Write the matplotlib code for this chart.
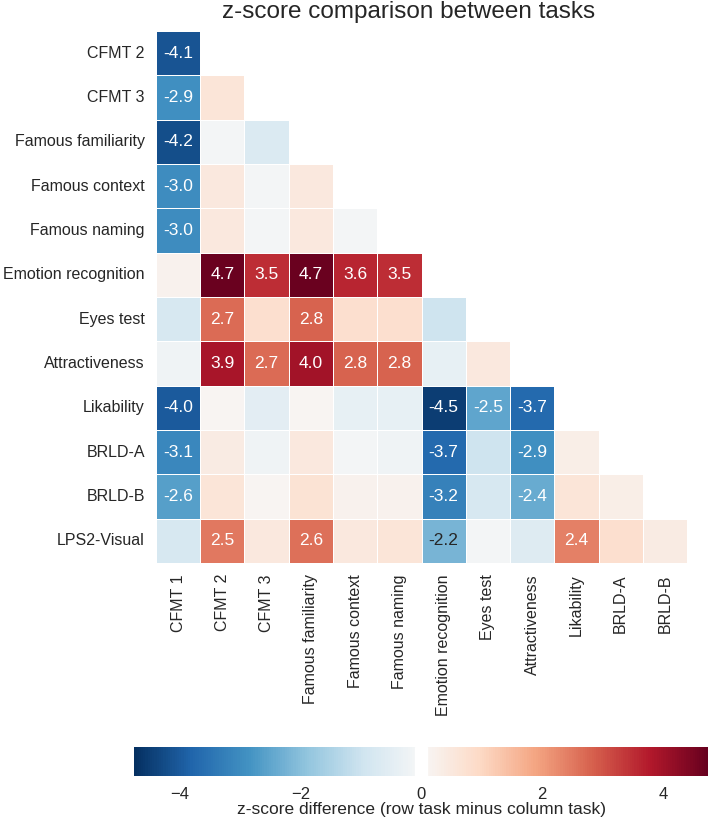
import numpy as np
import matplotlib
matplotlib.use("Agg")
import matplotlib.pyplot as plt
import seaborn as sns

sns.set_style("white")
plt.rcParams['font.family'] = ['Liberation Sans', 'DejaVu Sans']
plt.rcParams['text.color'] = '.15'
plt.rcParams['xtick.color'] = '.15'
plt.rcParams['ytick.color'] = '.15'

# rows / columns of the lower triangle
rows = ["CFMT 2", "CFMT 3", "Famous familiarity", "Famous context", "Famous naming",
        "Emotion recognition", "Eyes test", "Attractiveness", "Likability",
        "BRLD-A", "BRLD-B", "LPS2-Visual"]
cols = ["CFMT 1", "CFMT 2", "CFMT 3", "Famous familiarity", "Famous context",
        "Famous naming", "Emotion recognition", "Eyes test", "Attractiveness",
        "Likability", "BRLD-A", "BRLD-B"]

# z-score differences (row task minus column task), read row by row
diff_rows = [
    [-4.1],
    [-2.9, 0.6],
    [-4.2, -0.1, -0.7],
    [-3.0, 0.5, -0.1, 0.5],
    [-3.0, 0.5, -0.1, 0.5, -0.1],
    [0.2, 4.7, 3.5, 4.7, 3.6, 3.5],
    [-0.8, 2.7, 0.8, 2.8, 0.8, 0.8, -1.0],
    [-0.2, 3.9, 2.7, 4.0, 2.8, 2.8, -0.4, 0.5],
    [-4.0, 0.1, -0.5, 0.1, -0.4, -0.4, -4.5, -2.5, -3.7],
    [-3.1, 0.4, -0.2, 0.5, -0.1, -0.2, -3.7, -1.0, -2.9, 0.3],
    [-2.6, 0.6, 0.1, 0.7, 0.2, 0.2, -3.2, -0.8, -2.4, 0.6, 0.3],
    [-0.8, 2.5, 0.5, 2.6, 0.5, 0.6, -2.2, -0.1, -0.6, 2.4, 0.8, 0.4],
]
# only differences beyond this are labelled
thresh = 2.1

n = len(rows)
data = np.full((n, n), np.nan)
for i, r in enumerate(diff_rows):
    data[i, :len(r)] = r
mask = np.isnan(data)
labels = np.where(np.abs(np.nan_to_num(data)) > thresh,
                  np.vectorize(lambda v: f"{v:.1f}")(np.nan_to_num(data)), "")

fig = plt.figure(figsize=(7.09, 8.25), dpi=100)
ax = fig.add_axes([0.22, 0.3176, 0.749, 0.6448])
cax = fig.add_axes([0.1894, 0.0594, 0.8096, 0.0348])

lim = 4.75
sns.heatmap(data, mask=mask, cmap="RdBu_r", vmin=-lim, vmax=lim,
            annot=labels, fmt="", annot_kws={"fontsize": 12.5},
            linewidths=0.5, linecolor="white",
            xticklabels=cols, yticklabels=rows,
            ax=ax, cbar_ax=cax,
            cbar_kws={"orientation": "horizontal"})

ax.tick_params(length=0, labelsize=11.5, pad=8)
ax.set_yticklabels(rows, rotation=0)
ax.set_xticklabels(cols, rotation=90)

cax.tick_params(length=0, labelsize=12, pad=8)
cax.axvspan(-0.1, 0.1, color="white", zorder=5)
cax.set_xlabel("z-score difference (row task minus column task)", fontsize=12.5, labelpad=0)

fig.text(409 / 709, 1 - 12 / 825, "z-score comparison between tasks",
         fontsize=17.5, ha="center", va="center")

fig.savefig("out.png", dpi=100)
